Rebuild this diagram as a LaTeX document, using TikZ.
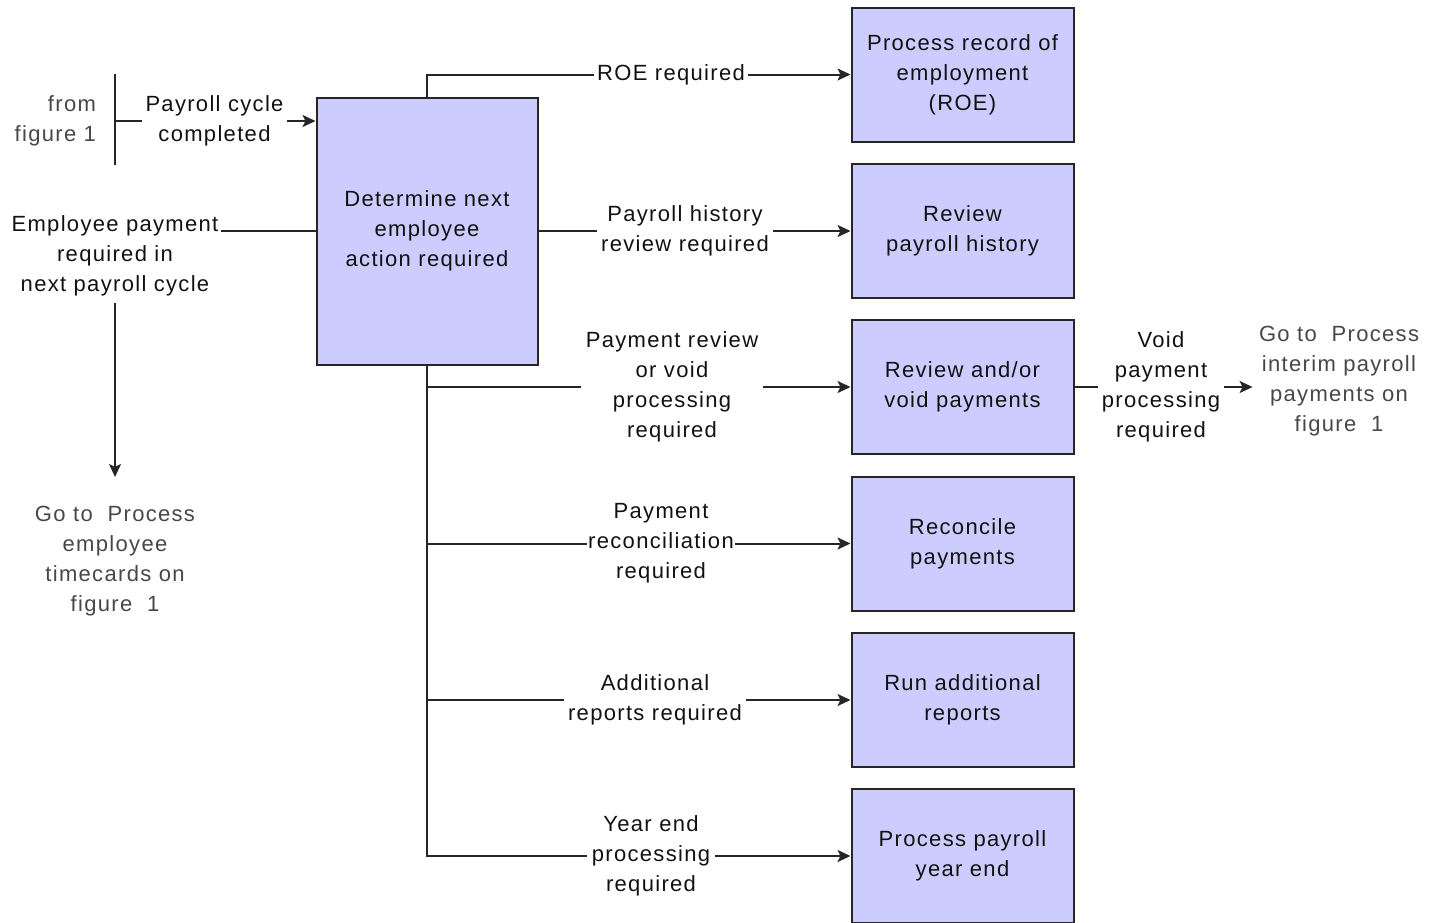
\documentclass[tikz,border=0pt]{standalone}
\usepackage{fontspec}
\setmainfont[LetterSpace=6]{Liberation Sans}
\usetikzlibrary{arrows.meta}
\definecolor{boxfill}{HTML}{CCCCFF}
\definecolor{ink}{HTML}{262626}
\definecolor{textink}{HTML}{111111}
\definecolor{notegray}{HTML}{474747}
\begin{document}
\begin{tikzpicture}[x=0.5pt,y=-0.5pt,
  every node/.style={font=\fontsize{11}{15}\selectfont, text=textink},
  proc/.style={draw=ink, fill=boxfill, line width=1pt, minimum width=111pt,
    minimum height=67pt, align=center, inner sep=0pt},
  lbl/.style={align=center, inner xsep=1.5pt, inner ysep=0pt},
  note/.style={align=center, text=notegray},
  conn/.style={draw=ink, line width=1pt},
  arr/.style={conn, -{Stealth[length=6.5pt,width=6pt,inset=1.5pt]}}]
\useasboundingbox (0,0) rectangle (1440,922);

% central decision box
\node[proc, minimum width=110.5pt, minimum height=133.5pt] (det) at (427,231)
  {Determine next\\employee\\action required};

% process boxes on the right
\node[proc] (roe)  at (962.5,74.5) {Process record of\\employment\\(ROE)};
\node[proc] (hist) at (962.5,231)  {Review\\payroll history};
\node[proc] (rev)  at (962.5,387)  {Review and/or\\void payments};
\node[proc] (rec)  at (962.5,543.5){Reconcile\\payments};
\node[proc] (add)  at (962.5,700)  {Run additional\\reports};
\node[proc] (year) at (962.5,856)  {Process payroll\\year end};

% branch labels
\node[lbl] (lroe)  at (671,74.5)  {ROE required};
\node[lbl, inner xsep=2pt] (lhist) at (685,231) {Payroll history\\review required};
\node[lbl, inner xsep=2pt] (lpay)  at (672,387) {Payment review\\or void\\processing\\required};
\node[lbl, inner xsep=0.5pt] (lrec) at (661,543.5) {Payment\\reconciliation\\required};
\node[lbl, inner xsep=2pt] (ladd)  at (655,700) {Additional\\reports required};
\node[lbl, inner xsep=2pt] (lyear) at (651,856) {Year end\\processing\\required};

% branches out of the decision box
\draw[conn] (det.north) |- (lroe.west);
\draw[arr]  (lroe.east) -- (roe.west);
\draw[conn] (det.east) -- (lhist.west);
\draw[arr]  (lhist.east) -- (hist.west);
\draw[conn] (det.south) |- (lyear.west);
\draw[arr]  (lyear.east) -- (year.west);
\draw[conn] (det.south |- lpay.west) -- (lpay.west);
\draw[arr]  (lpay.east) -- (rev.west);
\draw[conn] (det.south |- lrec.west) -- (lrec.west);
\draw[arr]  (lrec.east) -- (rec.west);
\draw[conn] (det.south |- ladd.west) -- (ladd.west);
\draw[arr]  (ladd.east) -- (add.west);

% void payment exit
\node[lbl, inner xsep=1.5pt] (lvoid) at (1161,387) {Void\\payment\\processing\\required};
\node[note, inner xsep=3pt] (goto2) at (1339,381) {Go to\ \ Process\\interim payroll\\payments on\\figure\ \ 1};
\draw[conn] (rev.east) -- (lvoid.west);
\draw[arr]  (lvoid.east) -- (lvoid.east -| goto2.west);

% entries on the left
\node[note, align=right, anchor=east] (from) at (103,121) {from\\figure 1};
\coordinate (bartop) at (115,74);
\coordinate (barbot) at (115,165);
\draw[conn] (bartop) -- (barbot);
\node[lbl] (lcyc) at (214.5,121) {Payroll cycle\\completed};
\draw[conn] (bartop |- lcyc.west) -- (lcyc.west);
\draw[arr]  (lcyc.east) -- (lcyc.east -| det.west);

\node[align=center, inner xsep=1pt] (lemp) at (115,256) {Employee payment\\required in\\next payroll cycle};
\draw[conn] (lemp.east |- det.west) -- (det.west);
\node[note] (goto1) at (115,561) {Go to\ \ Process\\employee\\timecards on\\figure\ \ 1};
\draw[arr] (lemp.south) -- ([yshift=11pt]goto1.north);
\end{tikzpicture}
\end{document}
